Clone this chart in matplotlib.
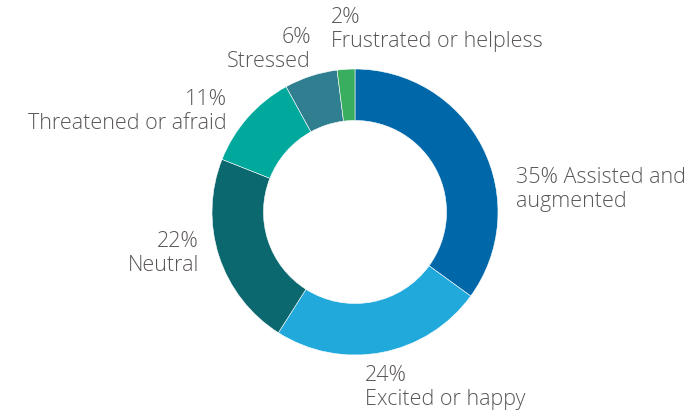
import matplotlib
matplotlib.use('Agg')
from matplotlib import pyplot as plt

# data, clockwise from 12 o'clock
labels = ['Assisted and augmented', 'Excited or happy', 'Neutral',
          'Threatened or afraid', 'Stressed', 'Frustrated or helpless']
shares = [35, 24, 22, 11, 6, 2]
colors = ['#0068a9', '#22a9dc', '#0b686e', '#00a99c', '#2f7f90', '#38ae5e']

W, H = 695, 413
fig = plt.figure(figsize=(W / 100, H / 100), dpi=100)
ax = fig.add_axes([0, 0, 1, 1])

cx, cy, r = 355, H - 212, 143
ax.pie(shares, colors=colors, startangle=90, counterclock=False,
       center=(cx, cy), radius=r, frame=True,
       wedgeprops=dict(width=r * 0.36, edgecolor='white', linewidth=0.4))
ax.set_xlim(0, W)
ax.set_ylim(0, H)
ax.set_aspect('equal')
ax.axis('off')

txt = dict(fontsize=15.5, color='#5b5656', family=['Open Sans', 'DejaVu Sans'],
           fontweight='light', linespacing=1.2, va='top')

# label anchors in pixel coords (x, y from top), alignment
spots = [(516, 167, 'left'), (365, 365, 'left'), (199, 231, 'right'),
         (227, 89, 'right'), (311, 27, 'right'), (331, 7, 'left')]
for (x, y, ha), lab, s in zip(spots, labels, shares):
    if lab == 'Assisted and augmented':
        t = f'{s}% Assisted and\naugmented'
    else:
        t = f'{s}%\n{lab}'
    ax.text(x, H - y, t, ha=ha, multialignment=ha, **txt)

fig.savefig('out.png', dpi=100, facecolor='white')
